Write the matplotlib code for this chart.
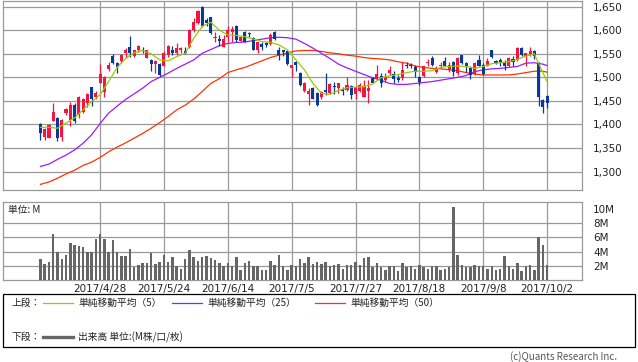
import matplotlib
matplotlib.use("Agg")
import matplotlib.pyplot as plt
from matplotlib.lines import Line2D
from matplotlib.patches import Rectangle

plt.rcParams['font.family'] = ['Noto Sans CJK JP', 'DejaVu Sans']

# ---------------- data (trading-day index 0..119) ----------------
open_ = [1401, 1373, 1372, 1408, 1413, 1374, 1424, 1410, 1441, 1420,
         1427, 1445, 1479, 1459, 1489, 1468, 1517, 1545, 1531, 1535,
         1551, 1564, 1545, 1559, 1558, 1542, 1537, 1528, 1528, 1525,
         1547, 1559, 1551, 1558, 1555, 1564, 1600, 1615, 1650, 1622,
         1627, 1583, 1581, 1565, 1585, 1597, 1609, 1578, 1597, 1595,
         1583, 1559, 1571, 1572, 1571, 1597, 1559, 1557, 1555, 1519,
         1533, 1510, 1470, 1465, 1477, 1466, 1459, 1473, 1466, 1482,
         1477, 1475, 1473, 1482, 1465, 1470, 1459, 1470, 1498, 1496,
         1503, 1494, 1509, 1507, 1498, 1498, 1526, 1526, 1521, 1500,
         1503, 1530, 1540, 1512, 1523, 1535, 1516, 1533, 1509, 1547,
         1530, 1519, 1507, 1537, 1526, 1524, 1557, 1535, 1537, 1530,
         1524, 1538, 1537, 1562, 1545, 1550, 1555, 1531, 1452, 1460]
high = [1404, 1392, 1400, 1446, 1415, 1412, 1434, 1448, 1445, 1460,
        1457, 1466, 1480, 1470, 1528, 1503, 1533, 1550, 1533, 1549,
        1562, 1588, 1559, 1568, 1564, 1558, 1538, 1537, 1530, 1555,
        1569, 1567, 1572, 1565, 1565, 1602, 1625, 1643, 1651, 1625,
        1629, 1597, 1590, 1590, 1609, 1608, 1610, 1586, 1598, 1597,
        1585, 1576, 1576, 1574, 1593, 1598, 1565, 1559, 1558, 1527,
        1535, 1512, 1490, 1477, 1479, 1468, 1472, 1509, 1487, 1491,
        1489, 1480, 1500, 1484, 1482, 1487, 1494, 1494, 1501, 1526,
        1510, 1510, 1524, 1514, 1505, 1533, 1533, 1531, 1526, 1503,
        1524, 1538, 1545, 1523, 1533, 1544, 1533, 1535, 1544, 1548,
        1533, 1523, 1533, 1547, 1530, 1542, 1559, 1537, 1542, 1537,
        1544, 1545, 1565, 1564, 1552, 1565, 1557, 1533, 1453, 1463]
low = [1368, 1368, 1371, 1407, 1364, 1366, 1420, 1397, 1404, 1413,
       1424, 1438, 1439, 1455, 1487, 1459, 1514, 1528, 1509, 1530,
       1542, 1544, 1544, 1554, 1551, 1540, 1513, 1509, 1503, 1523,
       1544, 1547, 1547, 1551, 1549, 1562, 1597, 1613, 1606, 1608,
       1592, 1576, 1567, 1564, 1576, 1576, 1576, 1574, 1574, 1586,
       1558, 1551, 1558, 1565, 1569, 1579, 1537, 1545, 1526, 1501,
       1514, 1482, 1468, 1441, 1453, 1439, 1455, 1463, 1465, 1464,
       1466, 1463, 1472, 1455, 1453, 1468, 1458, 1446, 1487, 1494,
       1479, 1491, 1505, 1487, 1491, 1494, 1519, 1519, 1501, 1484,
       1501, 1524, 1523, 1509, 1519, 1523, 1512, 1503, 1505, 1528,
       1512, 1496, 1505, 1523, 1505, 1523, 1542, 1528, 1523, 1516,
       1521, 1524, 1535, 1545, 1524, 1545, 1538, 1439, 1425, 1436]
close = [1381, 1390, 1399, 1426, 1371, 1410, 1432, 1441, 1408, 1458,
         1455, 1465, 1454, 1466, 1507, 1501, 1526, 1530, 1521, 1547,
         1557, 1552, 1557, 1566, 1555, 1557, 1528, 1535, 1505, 1551,
         1567, 1551, 1562, 1562, 1551, 1600, 1618, 1641, 1609, 1616,
         1593, 1585, 1578, 1581, 1600, 1602, 1579, 1585, 1576, 1591,
         1559, 1574, 1565, 1569, 1590, 1581, 1547, 1553, 1528, 1526,
         1526, 1484, 1489, 1472, 1455, 1441, 1468, 1468, 1486, 1479,
         1487, 1472, 1484, 1463, 1479, 1484, 1482, 1477, 1489, 1507,
         1487, 1501, 1516, 1496, 1494, 1516, 1523, 1523, 1512, 1491,
         1523, 1532, 1526, 1519, 1526, 1524, 1526, 1512, 1540, 1530,
         1521, 1505, 1530, 1524, 1507, 1535, 1544, 1531, 1530, 1523,
         1542, 1533, 1562, 1547, 1551, 1555, 1545, 1459, 1438, 1446]
volume_m = [3.0, 2.3, 2.6, 6.5, 4.0, 3.0, 3.5, 5.2, 5.0, 4.85,
            4.7, 4.0, 4.0, 5.8, 6.5, 5.8, 4.0, 5.6, 4.0, 3.4,
            3.4, 4.4, 1.8, 2.1, 2.4, 2.4, 3.8, 2.3, 2.6, 3.5,
            2.6, 3.2, 2.0, 1.6, 3.0, 4.2, 3.3, 2.7, 3.3, 3.4,
            3.1, 2.8, 2.4, 2.0, 2.4, 2.0, 3.3, 1.45, 2.4, 2.7,
            2.0, 2.0, 1.45, 1.45, 2.7, 2.1, 3.5, 2.0, 1.45, 2.1,
            2.0, 3.0, 2.4, 3.3, 2.3, 2.6, 2.3, 2.6, 2.0, 2.1,
            2.3, 1.6, 2.1, 2.1, 2.6, 2.1, 3.1, 3.3, 1.8, 2.4,
            1.8, 1.45, 2.0, 2.0, 1.3, 2.4, 1.8, 2.0, 1.6, 2.1,
            1.8, 1.6, 2.0, 2.0, 1.45, 1.6, 1.8, 10.25, 3.5, 2.1,
            1.8, 1.8, 2.1, 2.0, 2.0, 1.6, 2.0, 1.45, 1.6, 3.4,
            2.0, 1.6, 2.4, 1.3, 2.0, 2.1, 1.45, 6.05, 4.9, 2.1]

# moving averages read every second trading day (plus last day)
ma_idx = list(range(0, 120, 2)) + [119]
ma5 = [1394, 1394, 1392, 1403, 1414, 1431, 1448, 1463, 1491, 1521,
       1540, 1552, 1557, 1550, 1537, 1535, 1544, 1551, 1583, 1608,
       1617, 1600, 1590, 1589, 1586, 1581, 1576, 1574, 1569, 1558,
       1537, 1516, 1487, 1466, 1464, 1472, 1478, 1479, 1480, 1486,
       1499, 1503, 1506, 1510, 1513, 1513, 1514, 1521, 1523, 1524,
       1523, 1519, 1523, 1529, 1531, 1533, 1538, 1545, 1550, 1510, 1491]
ma25 = [1311, 1316, 1326, 1335, 1346, 1360, 1378, 1402, 1424, 1439,
        1453, 1465, 1477, 1491, 1500, 1509, 1519, 1528, 1537, 1551,
        1559, 1567, 1572, 1574, 1575, 1578, 1581, 1584, 1585, 1584,
        1581, 1572, 1562, 1551, 1540, 1528, 1520, 1513, 1506, 1499,
        1494, 1487, 1485, 1485, 1487, 1489, 1491, 1494, 1497, 1500,
        1504, 1512, 1516, 1518, 1519, 1521, 1523, 1530, 1531, 1528, 1525]
ma50 = [1273, 1278, 1286, 1295, 1303, 1313, 1320, 1330, 1342, 1352,
        1361, 1371, 1381, 1392, 1404, 1417, 1431, 1441, 1454, 1470,
        1487, 1497, 1510, 1516, 1521, 1528, 1535, 1542, 1547, 1552,
        1556, 1557, 1557, 1555, 1552, 1550, 1547, 1545, 1542, 1540,
        1539, 1537, 1533, 1530, 1524, 1521, 1519, 1518, 1516, 1514,
        1510, 1507, 1505, 1505, 1505, 1505, 1507, 1510, 1513, 1513, 1511]

date_ticks = [14, 29, 44, 59, 74, 89, 104, 119]
date_labels = ["2017/4/28", "2017/5/24", "2017/6/14", "2017/7/5",
               "2017/7/27", "2017/8/18", "2017/9/8", "2017/10/2"]
price_ticks = [1300, 1350, 1400, 1450, 1500, 1550, 1600, 1650]
vol_grid = [2, 4, 6, 8]
vol_ticks = [2, 4, 6, 8, 10]

# ---------------- styling ----------------
UP = "#f5143f"
DOWN = "#0a3896"
C5 = "#99cc00"
C25 = "#9a1bff"
C50 = "#ff3300"
GRID = "#999999"
VOLC = "#666666"
TXT = "#222222"

W, H = 638, 362
fig = plt.figure(figsize=(W / 100, H / 100), dpi=100)
fig.patch.set_facecolor("white")

ax = fig.add_axes([3 / W, 1 - 190 / H, 579 / W, 189.5 / H])
axv = fig.add_axes([3 / W, 1 - 280.3 / H, 579 / W, 78.3 / H])

xmin, xmax = -8.8, 127.2
for a in (ax, axv):
    a.set_xlim(xmin, xmax)
    for s in a.spines.values():
        s.set_color(GRID)
        s.set_linewidth(0.9)
    for t in date_ticks:
        a.axvline(t, color=GRID, lw=0.9, zorder=0)

# price panel
ax.set_ylim(1261, 1663)
for p in price_ticks:
    ax.axhline(p, color=GRID, lw=0.9, zorder=0)
ax.set_xticks([])
ax.yaxis.tick_right()
ax.set_yticks(price_ticks)
ax.set_yticklabels([f"{p:,}" for p in price_ticks], fontsize=7.5, color=TXT,
                   family="DejaVu Sans")
ax.tick_params(axis="y", length=0, pad=8)

n = len(close)
idx = list(range(n))
cols = [UP if c >= o else DOWN for o, c in zip(open_, close)]
ax.vlines(idx, low, high, colors=cols, lw=0.9, zorder=3)
bottoms = [min(o, c) for o, c in zip(open_, close)]
heights = [max(abs(c - o), 1.2) for o, c in zip(open_, close)]
ax.bar(idx, heights, bottom=bottoms, width=0.72, color=cols, lw=0, zorder=4)

ax.plot(ma_idx, ma50, color=C50, lw=0.9, zorder=2)
ax.plot(ma_idx, ma25, color=C25, lw=0.9, zorder=2)
ax.plot(ma_idx, ma5, color=C5, lw=0.9, zorder=5)

# volume panel
axv.set_ylim(0, 10.95)
for v in vol_grid:
    axv.axhline(v, color=GRID, lw=0.9, zorder=0)
axv.bar(idx, volume_m, width=0.58, color=VOLC, lw=0, zorder=3)
axv.yaxis.tick_right()
axv.set_yticks(vol_ticks)
axv.set_yticklabels([f"{v}M" for v in vol_ticks], fontsize=7.5, color=TXT,
                    family="DejaVu Sans")
axv.tick_params(axis="y", length=0, pad=8)
axv.set_xticks(date_ticks)
axv.set_xticklabels(date_labels, fontsize=7.5, color=TXT, family="DejaVu Sans")
axv.tick_params(axis="x", length=0, pad=3)
axv.text(5 / 579, (280.3 - 210) / 78.3, "単位: M", transform=axv.transAxes,
         fontsize=7, color=TXT, va="center", ha="left")

# legend box
fig.add_artist(Rectangle((3 / W, 1 - 347 / H), 632 / W, 53 / H,
                         transform=fig.transFigure, fill=False,
                         ec="black", lw=0.9))
y1 = 1 - 303 / H
y2 = 1 - 337 / H
fig.text(12 / W, y1, "上段：", fontsize=7, color=TXT, va="center")
fig.text(12 / W, y2, "下段：", fontsize=7, color=TXT, va="center")
for (x0, x1, c, lab) in [(43, 73, C5, "単純移動平均（5）"),
                         (172, 202, C25, "単純移動平均（25）"),
                         (315, 345, C50, "単純移動平均（50）")]:
    fig.add_artist(Line2D([x0 / W, x1 / W], [y1, y1], transform=fig.transFigure,
                          color=c, lw=0.9))
    fig.text((x1 + 5) / W, y1, lab, fontsize=7, color=TXT, va="center")
fig.add_artist(Line2D([43 / W, 73 / W], [y2, y2], transform=fig.transFigure,
                      color=VOLC, lw=2.4))
fig.text(78 / W, y2, "出来高 単位:(M株/口/枚)", fontsize=7, color=TXT, va="center")

fig.text(617 / W, 1 - 357 / H, "(c)Quants Research Inc.", fontsize=7,
         color="#555555", va="center", ha="right")

fig.savefig("out.png", dpi=100, facecolor="white")
